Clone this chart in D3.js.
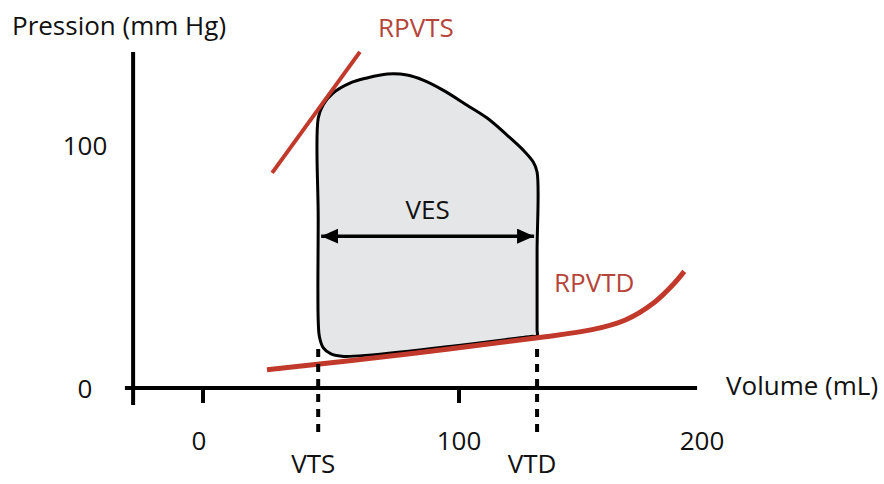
<!DOCTYPE html>
<html>
<head>
<meta charset="utf-8">
<script src="https://cdn.jsdelivr.net/npm/d3@7"></script>
<style>
  body { margin: 0; background: #fff; }
  text { font-family: "Open Sans", sans-serif; font-size: 26px; }
</style>
</head>
<body>
<svg id="chart"></svg>
<script>
// volume (mL) / pressure (mm Hg)
const volumeTicks = [0, 100, 200]
const pressureTicks = [0, 100]

// pressure-volume loop, going down the left side then round
const loopVolume   = [45, 45, 45, 45.5, 47, 50, 55, 128, 130.5, 130.5, 130.5, 130.5, 129, 125, 118.75, 111, 103, 93.75, 86, 79.7, 72, 64, 57.4, 50.8, 46.9]
const loopPressure = [111, 70, 28, 21, 16.5, 14, 13, 21.2, 21.5, 24, 56, 88.9, 93, 98, 104.1, 111.1, 116.5, 122.6, 126.7, 128.8, 129.2, 127.6, 125.5, 121.4, 116.5]

// end-systolic relation (straight) and end-diastolic relation (curve)
const rpvtsVolume   = [27, 61.3]
const rpvtsPressure = [88.5, 138.3]
const rpvtdVolume   = [25, 80, 130, 152, 165, 176, 184, 188]
const rpvtdPressure = [7.5, 14, 20.6, 24, 28, 35, 43, 48]

const markNames  = ["VTS", "VTD"]
const markVolume = [45, 130.5]
const vesPressure = 62.5

const width = 884
const height = 484
const red = "#c0392b"

const svg = d3.select("#chart")
  .attr("width", width)
  .attr("height", height)

const x = d3.scaleLinear().domain([0, 100]).range([203, 459])
const y = d3.scaleLinear().domain([0, 100]).range([388, 145])
// the tick labels in the picture are not evenly spaced
const xLabel = d3.scaleLinear().domain([0, 100, 200]).range([199, 459, 702])

const zip = (a, b) => a.map((v, i) => [v, b[i]])

svg.append("defs").append("marker")
  .attr("id", "head")
  .attr("markerUnits", "userSpaceOnUse")
  .attr("markerWidth", 18)
  .attr("markerHeight", 16)
  .attr("refX", 17)
  .attr("refY", 7.5)
  .attr("orient", "auto-start-reverse")
  .append("path")
  .attr("d", "M0,0 L17,7.5 L0,15 Z")
  .attr("fill", "#000")

// loop
svg.append("path")
  .datum(zip(loopVolume, loopPressure))
  .attr("fill", "#e5e6e7")
  .attr("stroke", "#000")
  .attr("stroke-width", 3)
  .attr("d", d3.line()
    .x(d => x(d[0]))
    .y(d => y(d[1]))
    .curve(d3.curveCatmullRomClosed.alpha(0.5)))

// RPVTS
svg.append("path")
  .datum(zip(rpvtsVolume, rpvtsPressure))
  .attr("fill", "none")
  .attr("stroke", red)
  .attr("stroke-width", 4)
  .attr("d", d3.line().x(d => x(d[0])).y(d => y(d[1])))

// RPVTD
svg.append("path")
  .datum(zip(rpvtdVolume, rpvtdPressure))
  .attr("fill", "none")
  .attr("stroke", red)
  .attr("stroke-width", 5)
  .attr("d", d3.line()
    .x(d => x(d[0]))
    .y(d => y(d[1]))
    .curve(d3.curveCatmullRom.alpha(0.5)))

// axes
svg.append("line")
  .attr("x1", x(-30.5)).attr("x2", x(193))
  .attr("y1", y(0)).attr("y2", y(0))
  .attr("stroke", "#000").attr("stroke-width", 4)

svg.append("line")
  .attr("x1", x(-27.3)).attr("x2", x(-27.3))
  .attr("y1", y(138.3)).attr("y2", y(-7))
  .attr("stroke", "#000").attr("stroke-width", 4)

svg.selectAll(".tick")
  .data(volumeTicks.filter(v => v < 200))
  .enter().append("line")
  .attr("x1", d => x(d)).attr("x2", d => x(d))
  .attr("y1", y(0)).attr("y2", y(0) + 15)
  .attr("stroke", "#000").attr("stroke-width", 4)

svg.selectAll(".xlab")
  .data(volumeTicks)
  .enter().append("text")
  .attr("x", d => xLabel(d))
  .attr("y", y(0) + 62)
  .attr("text-anchor", "middle")
  .attr("fill", "#111")
  .text(d => d)

svg.selectAll(".ylab")
  .data(pressureTicks)
  .enter().append("text")
  .attr("x", 85)
  .attr("y", d => y(d) + 10)
  .attr("text-anchor", "middle")
  .attr("fill", "#111")
  .text(d => d)

// VTS / VTD dashed drops
svg.selectAll(".drop")
  .data(markVolume)
  .enter().append("line")
  .attr("x1", d => x(d)).attr("x2", d => x(d))
  .attr("y1", y(16)).attr("y2", y(-20))
  .attr("stroke", "#000")
  .attr("stroke-width", 4)
  .attr("stroke-dasharray", "8,7")

svg.selectAll(".mark")
  .data(markNames)
  .enter().append("text")
  .attr("x", (d, i) => x(markVolume[i]) - 5)
  .attr("y", 473)
  .attr("text-anchor", "middle")
  .attr("fill", "#111")
  .text(d => d)

// VES arrow
svg.append("line")
  .attr("x1", x(markVolume[0]) + 3)
  .attr("x2", x(markVolume[1]) - 3)
  .attr("y1", y(vesPressure)).attr("y2", y(vesPressure))
  .attr("stroke", "#000")
  .attr("stroke-width", 3.5)
  .attr("marker-start", "url(#head)")
  .attr("marker-end", "url(#head)")

svg.append("text")
  .attr("x", x((markVolume[0] + markVolume[1]) / 2))
  .attr("y", y(vesPressure) - 17)
  .attr("text-anchor", "middle")
  .attr("fill", "#111")
  .text("VES")

// relation labels
svg.append("text")
  .attr("x", 378).attr("y", 37)
  .attr("fill", "#b5453a")
  .text("RPVTS")

svg.append("text")
  .attr("x", 554).attr("y", 292)
  .attr("fill", "#b5453a")
  .text("RPVTD")

// axis titles
svg.append("text")
  .attr("x", 12).attr("y", 35)
  .attr("fill", "#111")
  .text("Pression (mm Hg)")

svg.append("text")
  .attr("x", 726).attr("y", 395)
  .attr("fill", "#111")
  .text("Volume (mL)")
</script>
</body>
</html>
